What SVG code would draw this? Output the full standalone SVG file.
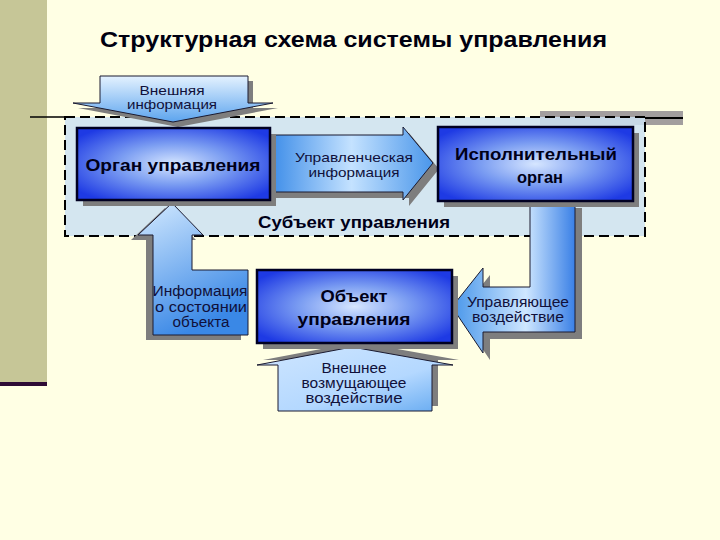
<svg xmlns="http://www.w3.org/2000/svg" width="720" height="540" viewBox="0 0 720 540">
<defs>
<radialGradient id="gBox" cx="0.5" cy="0.5" r="0.62">
<stop offset="0" stop-color="#D6E6FF"/>
<stop offset="0.45" stop-color="#7C9EF2"/>
<stop offset="1" stop-color="#1E3AE4"/>
</radialGradient>
<linearGradient id="gDown" x1="0" y1="0" x2="0" y2="1">
<stop offset="0" stop-color="#E4F2FF"/>
<stop offset="1" stop-color="#5CA4EE"/>
</linearGradient>
<linearGradient id="gRight" x1="0" y1="0" x2="1" y2="0">
<stop offset="0" stop-color="#3C8CE8"/>
<stop offset="0.5" stop-color="#C4E2FF"/>
<stop offset="1" stop-color="#4A96EA"/>
</linearGradient>
<linearGradient id="gUp" x1="0" y1="0" x2="0.4" y2="1">
<stop offset="0" stop-color="#D4EAFF"/>
<stop offset="1" stop-color="#3A88E6"/>
</linearGradient>
<linearGradient id="gL" x1="0" y1="0" x2="1" y2="0">
<stop offset="0" stop-color="#4896EA"/>
<stop offset="0.6" stop-color="#CFE7FF"/>
<stop offset="1" stop-color="#3A80E6"/>
</linearGradient>
<linearGradient id="gUp2" x1="0" y1="0" x2="1" y2="1">
<stop offset="0" stop-color="#CFE6FF"/>
<stop offset="0.6" stop-color="#B4D8FF"/>
<stop offset="1" stop-color="#62A8F0"/>
</linearGradient>
<style>
.box{stroke:#000022;stroke-width:2.5}
.sh{fill:#7E7E7E}
.arr{stroke:#1A1A30;stroke-width:1}
.t{font-family:"Liberation Sans",Arial,sans-serif;font-size:14px;fill:#10103A;text-anchor:middle}
.s{font-size:13px}
.b{font-family:"Liberation Sans",Arial,sans-serif;font-size:17px;font-weight:bold;fill:#000018;text-anchor:middle}
</style>
</defs>
<rect width="720" height="540" fill="#FFFFE4"/>
<rect x="0" y="0" width="47" height="382" fill="#C6C697"/>
<rect x="0" y="382" width="47" height="4" fill="#2D0B35"/>
<text x="100" y="47" textLength="507" lengthAdjust="spacingAndGlyphs" style="font-family:'Liberation Sans',Arial,sans-serif;font-size:22px;font-weight:bold;fill:#000010">Структурная схема системы управления</text>
<g id="frame">
<rect x="540" y="111" width="143" height="14" fill="#A29E9E"/>
<line x1="30" y1="117" x2="65" y2="117" stroke="#000" stroke-width="1.5"/>
<line x1="645" y1="118" x2="683" y2="118" stroke="#000" stroke-width="2"/>
<rect id="subject" x="65" y="117" width="580" height="119" fill="#CDE2F2" fill-opacity="0.85" stroke="#000" stroke-width="2" stroke-dasharray="10 5"/>
<text class="b" x="354" y="228" textLength="192" lengthAdjust="spacingAndGlyphs">Субъект управления</text>
</g>
<g id="connectors">
<g id="arrow-ext-info">
<path class="sh" transform="translate(5,5)" d="M100,76 H248 V103 H273 L173,122 L73,103 H100 Z"/>
<path class="arr" fill="url(#gDown)" d="M100,76 H248 V103 H273 L173,122 L73,103 H100 Z"/>
<text class="t s" x="172" y="95" textLength="65" lengthAdjust="spacingAndGlyphs">Внешняя</text>
<text class="t s" x="172" y="109" textLength="90" lengthAdjust="spacingAndGlyphs">информация</text>
</g>
<g id="arrow-mgmt-info">
<path class="sh" transform="translate(6,6)" d="M270,135 H403 V127 L433,163 L403,200 V192 H270 Z"/>
<path class="arr" fill="url(#gRight)" d="M270,135 H403 V127 L433,163 L403,200 V192 H270 Z"/>
<text class="t s" x="354" y="162" textLength="118" lengthAdjust="spacingAndGlyphs">Управленческая</text>
<text class="t s" x="354" y="177" textLength="91" lengthAdjust="spacingAndGlyphs">информация</text>
</g>
<g id="arrow-control">
<path class="sh" transform="translate(7,7)" d="M530,201 H575 V332 H483 V353 L452,307 L483,268 V287 H530 Z"/>
<path class="arr" fill="url(#gL)" d="M530,201 H575 V332 H483 V353 L452,307 L483,268 V287 H530 Z"/>
<text class="t" x="518" y="307" textLength="102" lengthAdjust="spacingAndGlyphs">Управляющее</text>
<text class="t" x="518" y="322" textLength="92" lengthAdjust="spacingAndGlyphs">воздействие</text>
</g>
<g id="arrow-state-info">
<path class="sh" transform="translate(-7,5)" d="M172,203 L203,235 H192 V270 H248 V335 H153 V235 H138 Z"/>
<path class="arr" fill="url(#gUp)" d="M172,203 L203,235 H192 V270 H248 V335 H153 V235 H138 Z"/>
<text class="t" x="200" y="296" textLength="95" lengthAdjust="spacingAndGlyphs">Информация</text>
<text class="t" x="201" y="312" textLength="92" lengthAdjust="spacingAndGlyphs">о состоянии</text>
<text class="t" x="201" y="327" textLength="57" lengthAdjust="spacingAndGlyphs">объекта</text>
</g>
<g id="arrow-disturbance">
<path class="sh" transform="translate(6,-5)" d="M352,347 L453,365 H432 V411 H278 V365 H257 Z"/>
<path class="arr" fill="url(#gUp2)" d="M352,347 L453,365 H432 V411 H278 V365 H257 Z"/>
<text class="t" x="354" y="373" textLength="65" lengthAdjust="spacingAndGlyphs">Внешнее</text>
<text class="t" x="354" y="388" textLength="105" lengthAdjust="spacingAndGlyphs">возмущающее</text>
<text class="t" x="354" y="403" textLength="97" lengthAdjust="spacingAndGlyphs">воздействие</text>
</g>
</g>
<g id="organ">
<rect class="sh" x="83" y="134" width="193" height="72"/>
<rect class="box" fill="url(#gBox)" x="77" y="128" width="193" height="72"/>
<text class="b" x="173" y="171" textLength="175" lengthAdjust="spacingAndGlyphs">Орган управления</text>
</g>
<g id="executor">
<rect class="sh" x="444" y="133" width="195" height="74"/>
<rect class="box" fill="url(#gBox)" x="438" y="127" width="195" height="74"/>
<text class="b" x="536" y="160" textLength="162" lengthAdjust="spacingAndGlyphs">Исполнительный</text>
<text class="b" x="540" y="183" textLength="46" lengthAdjust="spacingAndGlyphs">орган</text>
</g>
<g id="object">
<rect class="sh" x="263" y="276" width="195" height="73"/>
<rect class="box" fill="url(#gBox)" x="257" y="270" width="195" height="73"/>
<text class="b" x="354" y="302" textLength="67" lengthAdjust="spacingAndGlyphs">Объект</text>
<text class="b" x="354" y="325" textLength="113" lengthAdjust="spacingAndGlyphs">управления</text>
</g>
</svg>
